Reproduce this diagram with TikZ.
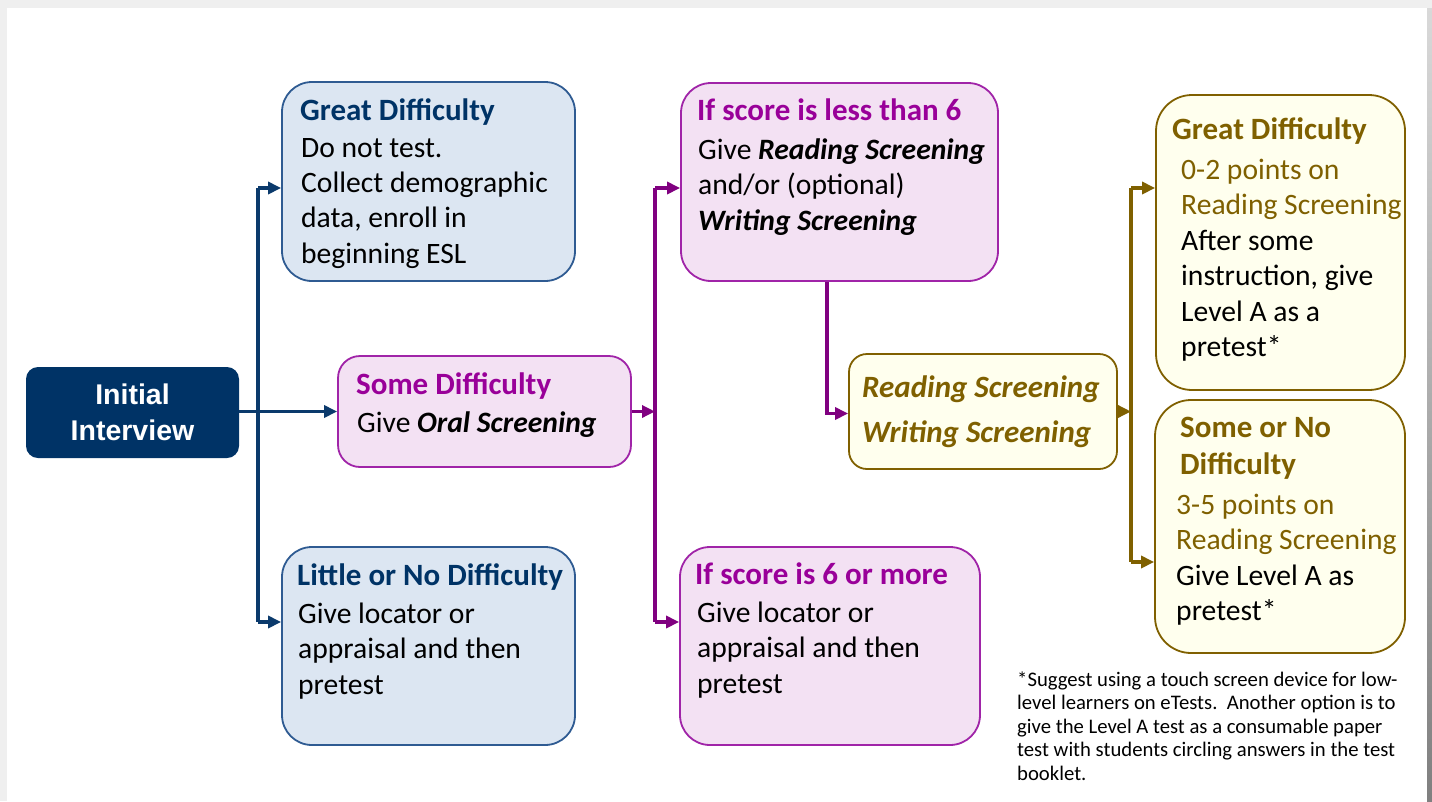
\documentclass[tikz,border=0pt]{standalone}
\usepackage{fontspec}
\setmainfont{Carlito}
\newfontfamily\arialfont{Liberation Sans}
\usetikzlibrary{arrows.meta}

\definecolor{navy}{HTML}{003366}
\definecolor{navyline}{HTML}{0B3A6C}
\definecolor{bluefill}{HTML}{DCE6F2}
\definecolor{blueborder}{HTML}{2F5B92}
\definecolor{pinkfill}{HTML}{F3E1F3}
\definecolor{pinkborder}{HTML}{A024A8}
\definecolor{pinktitle}{HTML}{990099}
\definecolor{pinkline}{HTML}{800080}
\definecolor{yelfill}{HTML}{FFFFEE}
\definecolor{yelborder}{HTML}{806000}
\definecolor{olive}{HTML}{7F6000}
\definecolor{pagegrey}{HTML}{EFEFEF}

\newcommand{\headfont}{\fontsize{31}{37}\selectfont\bfseries}

\begin{document}
\begin{tikzpicture}[x=1pt,y=-1pt,
  bluebox/.style={draw=blueborder, fill=bluefill, line width=1.8pt, rounded corners=30pt, inner sep=0pt},
  pinkbox/.style={draw=pinkborder, fill=pinkfill, line width=1.8pt, rounded corners=30pt, inner sep=0pt},
  yelbox/.style={draw=yelborder, fill=yelfill, line width=1.8pt, rounded corners=32pt, inner sep=0pt},
  txt/.style={anchor=base west, inner sep=0pt, font=\fontsize{29.6}{35.4}\selectfont},
  head/.style={anchor=base west, inner sep=0pt, font=\headfont},
  bconn/.style={draw=navyline, line width=3.3pt},
  pconn/.style={draw=pinkline, line width=3.8pt},
  oconn/.style={draw=olive, line width=3.5pt},
  tip/.style={-{Triangle[length=13pt,width=12pt]}}
]
% card and its shadow
\fill[pagegrey] (0,0) rectangle (1432,801);
\shade[top color=black!15, bottom color=black!50] (1427,8) rectangle (1432,801);
\fill[white] (7,8) rectangle (1427,801);
\useasboundingbox (0,0) rectangle (1432,801);

% boxes
\node[fill=navy, rounded corners=12pt, minimum width=213pt, minimum height=91pt, inner sep=0pt] (init) at (132.5,412.5) {};
\node[bluebox, minimum width=293pt, minimum height=199pt] (gd1) at (428.5,181.5) {};
\node[pinkbox, rounded corners=22pt, minimum width=293pt, minimum height=111pt] (sd) at (484.5,411.5) {};
\node[bluebox, minimum width=293pt, minimum height=198pt] (lnd) at (428.5,646) {};
\node[pinkbox, minimum width=317pt, minimum height=198pt] (lt6) at (839.5,182) {};
\node[pinkbox, minimum width=300pt, minimum height=198pt] (ge6) at (830,646) {};
\node[yelbox, rounded corners=18pt, minimum width=268pt, minimum height=115pt] (rw) at (983,411.5) {};
\node[yelbox, rounded corners=36pt, minimum width=249pt, minimum height=295pt] (gd2) at (1280.5,242.5) {};
\node[yelbox, rounded corners=36pt, minimum width=250pt, minimum height=253pt] (snd) at (1280,526.5) {};

% texts
\node[text=white, align=center, inner sep=0pt, font=\arialfont\bfseries\fontsize{28.5}{36}\selectfont] (initt) at (132.5,412) {Initial\\Interview};

\node[head, text=navy] (gd1t) at (300,120) {Great Difficulty};
\node[txt] (gd1b) at (301,157) {\parbox[t]{300pt}{\raggedright Do not test.\\Collect demographic\\data, enroll in\\beginning ESL}};

\node[head, text=pinktitle] (sdt) at (356,394) {Some Difficulty};
\node[txt] (sdb) at (357,432.5) {Give \textbf{\textit{Oral Screening}}};

\node[head, text=navy] (lndt) at (297,585.5) {Little or No Difficulty};
\node[txt] (lndb) at (298,623.5) {\parbox[t]{300pt}{\raggedright Give locator or\\appraisal and then\\pretest}};

\node[head, text=pinktitle] (lt6t) at (697,120.5) {If score is less than 6};
\node[txt] (lt6b) at (698,159.5) {\parbox[t]{300pt}{\raggedright Give \textbf{\textit{Reading Screening}}\\and/or (optional)\\\textbf{\textit{Writing Screening}}}};

\node[head, text=pinktitle] (ge6t) at (695,584.5) {If score is 6 or more};
\node[txt] (ge6b) at (697,622.5) {\parbox[t]{300pt}{\raggedright Give locator or\\appraisal and then\\pretest}};

\node[txt, text=olive] (rwt) at (862,397) {\parbox[t]{300pt}{\fontsize{31}{45}\selectfont\raggedright\bfseries\itshape Reading Screening\\Writing Screening}};

\node[head, text=olive] (gd2t) at (1172,139) {Great Difficulty};
\node[txt, text=olive] (gd2b) at (1181,179.5) {\parbox[t]{300pt}{\raggedright 0-2 points on\\Reading Screening\\\color{black}After some\\instruction, give\\Level A as a\\pretest*}};

\node[head, text=olive] (sndt) at (1180,437.5) {\parbox[t]{300pt}{\headfont\raggedright Some or No\\Difficulty}};
\node[txt, text=olive] (sndb) at (1176,514.5) {\parbox[t]{300pt}{\raggedright 3-5 points on\\Reading Screening\\\color{black}Give Level A as\\pretest*}};

\node[anchor=base west, inner sep=0pt] (note) at (1017,686) {\parbox[t]{420pt}{\fontsize{20.7}{23.5}\selectfont\raggedright *Suggest using a touch screen device for low-\\level learners on eTests.\ \ Another option is to\\give the Level A test as a consumable paper\\test with students circling answers in the test\\booklet.}};

% navy connectors
\coordinate (btop) at (258,188);
\coordinate (bbot) at (258,622);
\draw[bconn] (btop) -- (bbot);
\draw[bconn, tip] (init.east |- sd.west) -- (sd.west);
\draw[bconn, tip] (btop) -- (btop -| gd1.west);
\draw[bconn, tip] (bbot) -- (bbot -| lnd.west);

% purple connectors
\coordinate (ptop) at (655,188);
\coordinate (pbot) at (655,622);
\draw[pconn] (ptop) -- (pbot);
\draw[pconn, tip] (sd.east) -- (ptop |- sd.east);
\draw[pconn, tip] (ptop) -- (ptop -| lt6.west);
\draw[pconn, tip] (pbot) -- (pbot -| ge6.west);
\draw[pconn, tip] ([xshift=-12.5pt]lt6.south) |- ([yshift=-2pt]rw.west);

% olive connectors
\coordinate (otop) at (1131,188);
\coordinate (obot) at (1131,562);
\draw[oconn] (otop) -- (obot);
\draw[oconn, tip] (rw.east) -- (otop |- rw.east);
\draw[oconn, tip] (otop) -- (otop -| gd2.west);
\draw[oconn, tip] (obot) -- (obot -| snd.west);
\end{tikzpicture}
\end{document}
